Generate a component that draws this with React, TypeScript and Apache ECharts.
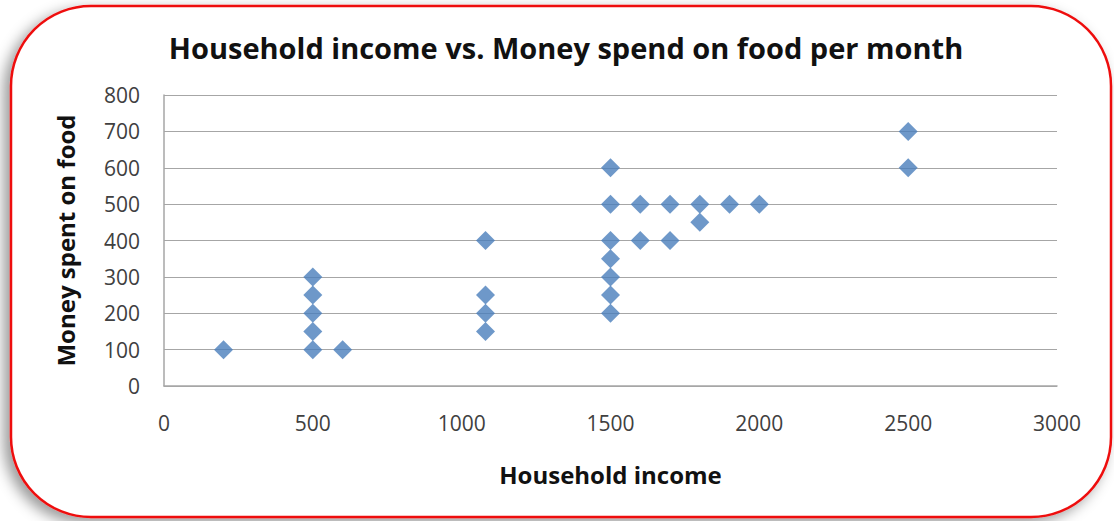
import React, { useEffect, useRef } from "react";
import * as echarts from "echarts";

const incomeValues: number[] = [200, 500, 500, 500, 500, 500, 600, 1080, 1080, 1080, 1080, 1500, 1500, 1500, 1500, 1500, 1500, 1500, 1600, 1600, 1700, 1700, 1800, 1800, 1900, 2000, 2500, 2500];
const foodValues: number[] = [100, 100, 150, 200, 250, 300, 100, 150, 200, 250, 400, 200, 250, 300, 350, 400, 500, 600, 400, 500, 400, 500, 450, 500, 500, 500, 600, 700];
const titleText = "Household income vs. Money spend on food per month";
const xName = "Household income";
const yName = "Money spent on food";

export default function App() {
  const ref = useRef<HTMLDivElement>(null);
  useEffect(() => {
    if (!ref.current) return;
    const chart = echarts.init(ref.current, null, { renderer: "svg" });
    const data = incomeValues.map((x, i) => [x, foodValues[i]]);
    const font = "'Open Sans', 'Liberation Sans', sans-serif";
    chart.setOption({
      animation: false,
      backgroundColor: "#ffffff",
      graphic: [
        {
          type: "rect",
          z: -10,
          shape: { x: 11, y: 6, width: 1100, height: 511, r: 80 },
          style: {
            fill: "#ffffff",
            stroke: "#ee1111",
            lineWidth: 2.5,
            shadowBlur: 14,
            shadowOffsetX: -6,
            shadowOffsetY: 5,
            shadowColor: "rgba(0,0,0,0.4)",
          },
          silent: true,
        },
      ],
      title: {
        text: titleText,
        left: 561,
        textAlign: "center",
        top: 28,
        textStyle: { fontFamily: font, fontWeight: "bold", fontSize: 29, color: "#111" },
      },
      grid: { left: 164, right: 57, top: 95, bottom: 135 },
      xAxis: {
        type: "value",
        min: 0,
        max: 3000,
        interval: 500,
        name: xName,
        nameLocation: "middle",
        nameGap: 76,
        nameTextStyle: { fontFamily: font, fontWeight: "bold", fontSize: 24, color: "#111" },
        axisLine: { show: true, lineStyle: { color: "#a6a6a6", width: 1.5 } },
        axisTick: { show: false },
        splitLine: { show: false },
        axisLabel: { fontFamily: font, fontSize: 21, color: "#404040", margin: 26, formatter: (v: number) => String(v) },
      },
      yAxis: {
        type: "value",
        min: 0,
        max: 800,
        interval: 100,
        name: yName,
        nameLocation: "middle",
        nameGap: 87,
        nameTextStyle: { fontFamily: font, fontWeight: "bold", fontSize: 24, color: "#111" },
        axisLine: { show: true, lineStyle: { color: "#a6a6a6", width: 1.5 } },
        axisTick: { show: false },
        splitLine: { show: true, lineStyle: { color: "#a6a6a6", width: 1.2 } },
        axisLabel: { fontFamily: font, fontSize: 21, color: "#404040", margin: 24 },
      },
      series: [
        {
          type: "scatter",
          data,
          symbol: "diamond",
          symbolSize: 19,
          itemStyle: { color: "#4a7ebb" },
        },
      ],
    });
    return () => chart.dispose();
  }, []);
  return (
    <div
      ref={ref}
      style={{ position: "fixed", left: 0, top: 0, width: 1114, height: 521 }}
    />
  );
}
